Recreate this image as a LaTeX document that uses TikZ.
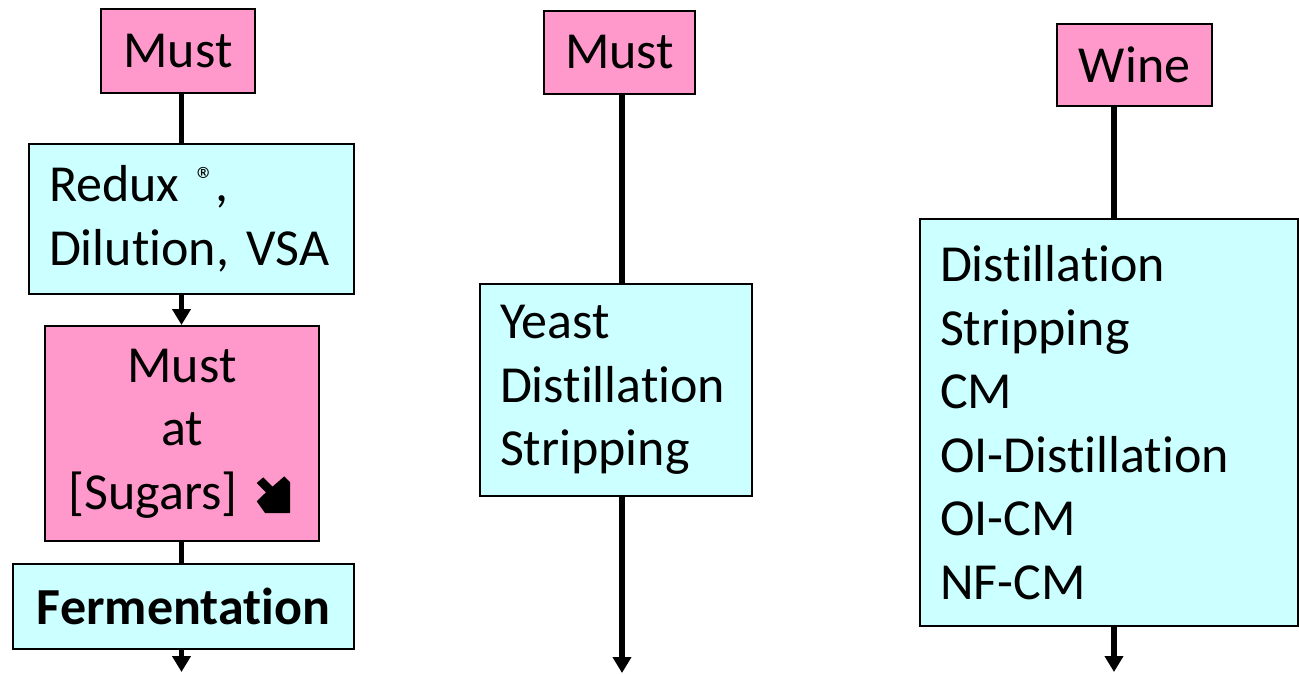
\documentclass[tikz,border=0pt]{standalone}
\usepackage{fontspec}
\setmainfont{Carlito}[Ligatures={NoCommon,NoContextual},RawFeature=-liga,RawFeature=-clig,RawFeature=-calt]
\usetikzlibrary{arrows.meta}
\definecolor{pinkfill}{HTML}{FF99CC}
\definecolor{cyanfill}{HTML}{CCFFFF}
\frenchspacing
\begin{document}
\begin{tikzpicture}[x=1pt,y=-1pt,
  box/.style={draw=black, line width=2pt, rectangle, anchor=north west, inner sep=0pt, font=\fontsize{52}{63.5}\selectfont},
  pinkbox/.style={box, fill=pinkfill, align=center},
  cyanbox/.style={box, fill=cyanfill},
  conn/.style={line width=5.5pt, black},
  arr/.style={conn, -{Triangle[width=18pt,length=16pt]}}]
\useasboundingbox (0,0) rectangle (1299,673);
% column 1
\node[pinkbox, minimum width=154pt, minimum height=84pt] (m1) at (100,8) {Must};
\node[cyanbox, minimum width=325pt, minimum height=150pt, inner xsep=20pt, text width=285pt, align=left] (r1) at (28,143) {Redux \textsuperscript{®},\\Dilution, VSA};
\node[pinkbox, minimum width=274pt, minimum height=215pt] (s1) at (44,325) {Must\\at\\{[Sugars]\rule{58pt}{0pt}}};
\node[cyanbox, minimum width=341pt, minimum height=85pt, align=center, font=\fontsize{52}{63.5}\selectfont\bfseries] (f1) at (12,563) {Fermentation};
% heavy south-east arrow symbol in the sugars box
\begin{scope}[shift={(s1.north west)}]
\fill[black] (219.3,152.3) -- (228.6,161.6) -- (240.3,151.3) -- (246,157) -- (246,188) -- (221,188) -- (212.7,176.3) -- (222,167.3) -- (212.7,158) -- cycle;
\end{scope}
% column 2
\node[pinkbox, minimum width=151pt, minimum height=83pt] (m2) at (543,10) {Must};
\node[cyanbox, minimum width=272pt, minimum height=212pt, inner xsep=20pt, text width=232pt, align=left] (y2) at (479,283) {Yeast\\Distillation\\Stripping};
% column 3
\node[pinkbox, minimum width=155pt, minimum height=82pt] (w3) at (1056,23) {Wine};
\node[cyanbox, minimum width=378pt, minimum height=407pt, inner xsep=20pt, text width=338pt, align=left] (b3) at (919,218) {Distillation\\Stripping\\CM\\OI-Distillation\\OI-CM\\NF-CM};
% connector positions
\coordinate (c1) at (181.5,0);
\coordinate (c2) at (622,0);
\coordinate (c3) at (1114,0);
\coordinate (e1) at (181.5,672);
\coordinate (e2) at (622,673);
\coordinate (e3) at (1114,672);
\draw[conn] (m1.south -| c1) -- (r1.north -| c1);
\draw[arr] (r1.south -| c1) -- (s1.north -| c1);
\draw[conn] (s1.south -| c1) -- (f1.north -| c1);
\draw[arr] (f1.south -| c1) -- (e1);
\draw[conn] (m2.south -| c2) -- (y2.north -| c2);
\draw[arr] (y2.south -| c2) -- (e2);
\draw[conn] (w3.south -| c3) -- (b3.north -| c3);
\draw[arr] (b3.south -| c3) -- (e3);
\end{tikzpicture}
\end{document}
